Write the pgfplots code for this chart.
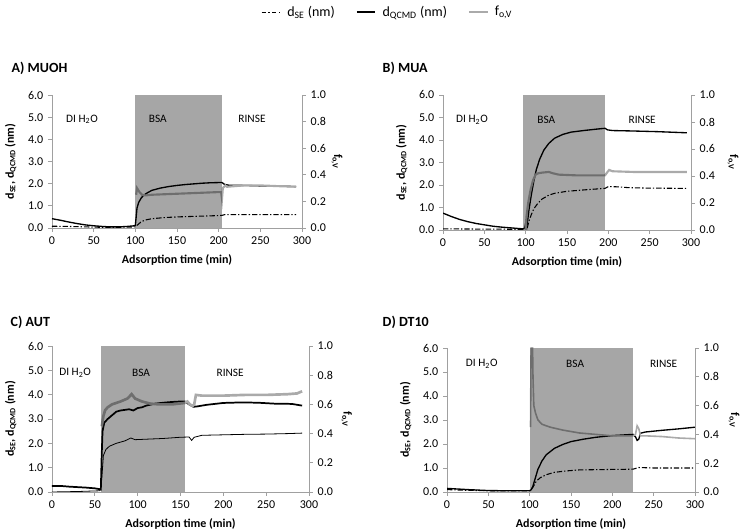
\documentclass[border=0pt]{standalone}
\usepackage{fontspec}
\setmainfont{Carlito}
\usepackage{pgfplots}
\pgfplotsset{compat=1.18}
\definecolor{axgray}{RGB}{160,160,160}
\definecolor{fgray}{RGB}{170,170,170}
\tikzset{reg/.style={font=\fontsize{8.5}{10}\selectfont},
  flab/.style={rotate=-90, anchor=center, font=\bfseries\fontsize{9}{10}\selectfont},
  ttl/.style={anchor=west, font=\bfseries\fontsize{10.5}{12}\selectfont}}
\pgfplotsset{
  base/.style={
    scale only axis, anchor=south west,
    xmin=0, xmax=300, clip=true,
    axis line style={draw=axgray, line width=0.7pt},
    tick style={draw=axgray, line width=0.6pt},
    tick align=outside, major tick length=3pt,
    /pgf/number format/assume math mode=true,
    tick label style={font=\fontsize{9}{10}\selectfont},
    label style={font=\bfseries\fontsize{9}{10}\selectfont},
  },
  leftax/.style={base,
    axis x line*=bottom, axis y line*=left,
    ymin=0, ymax=6, ytick={0,1,...,6}, xtick={0,50,...,300},
    yticklabel style={/pgf/number format/.cd, fixed, fixed zerofill, precision=1},
    xlabel={Adsorption time (min)},
    ylabel={d\textsubscript{SE}, d\textsubscript{QCMD} (nm)},
    xlabel style={yshift=-1pt},
    ylabel style={yshift=2pt},
  },
  rightax/.style={base,
    axis x line=none, axis y line*=right,
    ymin=0, ymax=1, ytick={0,0.2,...,1.0},
    yticklabel style={/pgf/number format/.cd, fixed, fixed zerofill, precision=1},
  },
  se/.style={black, line width=0.8pt, dash pattern=on 4pt off 1.5pt on 1pt off 1.5pt},
  qc/.style={black, line width=1pt},
  fv/.style={fgray, line width=1.6pt},
}
\begin{document}
\begin{tikzpicture}
\path[use as bounding box] (0,0) rectangle (556.5pt,398.25pt);
% ---------- legend ----------
\begin{axis}[hide axis, scale only axis, width=10pt, height=10pt,
  at={(291pt,389.25pt)}, anchor=center, xmin=0, xmax=1, ymin=0, ymax=1,
  legend columns=3,
  legend style={at={(0.5,0.5)}, anchor=center, draw=none, fill=none,
    font=\fontsize{10.5}{12}\selectfont,
    /tikz/every odd column/.append style={column sep=3pt},
    /tikz/every even column/.append style={column sep=14pt}},
  legend image code/.code={\draw[#1] (0pt,0pt) -- (14pt,0pt);}]
\addlegendimage{black, line width=0.6pt, dash pattern=on 3pt off 2pt on 1pt off 2pt}
\addlegendentry{d\textsubscript{SE} (nm)}
\addlegendimage{black, line width=0.8pt}
\addlegendentry{d\textsubscript{QCMD} (nm)}
\addlegendimage{fgray, line width=0.8pt}
\addlegendentry{f\textsubscript{o,V}}
\end{axis}
% ---------- A ----------
\begin{axis}[leftax, at={(39pt,227.25pt)}, width=187.5pt, height=99.75pt]
\addplot[qc] coordinates {(0,0.42)(10,0.35)(20,0.27)(30,0.2)(40,0.14)(50,0.1)(60,0.07)(70,0.05)(80,0.05)(90,0.07)(99,0.1)(100,0.12)(101,0.5)(102,0.9)(104,1.15)(107,1.35)(110,1.48)(115,1.6)(120,1.7)(130,1.8)(140,1.87)(150,1.92)(160,1.96)(170,1.99)(180,2.02)(190,2.04)(200,2.05)(204,2.05)(207,1.97)(212,1.93)(230,1.92)(250,1.9)(270,1.89)(293,1.87)};
\addplot[se] coordinates {(0,0.08)(20,0.07)(40,0.05)(60,0.03)(80,0.03)(100,0.05)(103,0.15)(107,0.28)(112,0.36)(120,0.42)(135,0.47)(150,0.5)(175,0.53)(200,0.56)(204,0.57)(207,0.6)(220,0.6)(250,0.6)(293,0.6)};
\end{axis}
\begin{axis}[rightax, at={(39pt,227.25pt)}, width=187.5pt, height=99.75pt]
\addplot[fv] coordinates {(101,0.25)(102,0.3)(103,0.29)(105,0.27)(108,0.25)(112,0.245)(120,0.25)(140,0.255)(160,0.26)(180,0.265)(200,0.27)(203,0.27)(204,0.22)(205,0.3)(208,0.32)(210,0.31)(230,0.32)(250,0.32)(270,0.315)(293,0.31)};
\fill[black, opacity=0.35] (axis cs:100,0) rectangle (axis cs:204,1);
\node[reg] at (axis cs:36,0.817) {DI H\textsubscript{2}O};
\node[reg] at (axis cs:127,0.817) {BSA};
\node[reg] at (axis cs:240,0.817) {RINSE};
\end{axis}
% ---------- B ----------
\begin{axis}[leftax, at={(332.25pt,225.75pt)}, width=186pt, height=101.25pt]
\addplot[qc] coordinates {(0,0.75)(10,0.6)(20,0.47)(30,0.37)(40,0.29)(50,0.23)(60,0.17)(70,0.13)(80,0.1)(90,0.07)(97,0.05)(99,0.1)(100,0.3)(101,0.05)(102,0.3)(104,0.9)(107,1.6)(110,2.2)(113,2.7)(117,3.15)(122,3.55)(128,3.85)(135,4.08)(145,4.25)(155,4.35)(170,4.42)(185,4.48)(196,4.52)(199,4.45)(205,4.42)(230,4.4)(260,4.37)(295,4.32)};
\addplot[se] coordinates {(0,0.05)(50,0.04)(97,0.03)(100,0.0)(102,0.1)(104,0.4)(107,0.7)(110,0.95)(115,1.2)(120,1.38)(128,1.55)(135,1.63)(150,1.72)(170,1.78)(196,1.85)(200,1.93)(210,1.92)(225,1.88)(250,1.86)(295,1.85)};
\end{axis}
\begin{axis}[rightax, at={(332.25pt,225.75pt)}, width=186pt, height=101.25pt]
\addplot[fv] coordinates {(100,0.0)(101,0.1)(103,0.2)(106,0.3)(109,0.37)(112,0.41)(115,0.42)(120,0.425)(128,0.43)(133,0.42)(140,0.41)(160,0.405)(180,0.405)(196,0.405)(199,0.43)(201,0.445)(205,0.435)(230,0.43)(260,0.43)(295,0.43)};
\fill[black, opacity=0.35] (axis cs:97,0) rectangle (axis cs:196,1);
\node[reg] at (axis cs:35,0.817) {DI H\textsubscript{2}O};
\node[reg] at (axis cs:125,0.817) {BSA};
\node[reg] at (axis cs:241,0.817) {RINSE};
\end{axis}
% ---------- C ----------
\begin{axis}[leftax, at={(39pt,29.25pt)}, width=192.75pt, height=109.5pt]
\addplot[qc, line width=1.3pt] coordinates {(0,0.25)(10,0.25)(20,0.22)(30,0.2)(40,0.18)(50,0.15)(55,0.12)(57,0.1)(58,1.5)(59,2.5)(61,2.85)(65,3.0)(70,3.15)(75,3.3)(80,3.35)(90,3.4)(95,3.35)(100,3.45)(105,3.48)(110,3.55)(120,3.63)(130,3.67)(140,3.7)(150,3.72)(155,3.72)(160,3.6)(165,3.5)(170,3.52)(180,3.58)(200,3.66)(220,3.68)(240,3.67)(260,3.63)(280,3.62)(292,3.55)};
\addplot[black, line width=0.6pt] coordinates {(0,0.0)(30,0.02)(56,0.05)(58,0.5)(60,1.5)(63,1.75)(67,1.88)(75,2.0)(85,2.1)(92,2.22)(97,2.15)(110,2.17)(130,2.2)(150,2.25)(160,2.26)(163,2.12)(166,2.25)(175,2.33)(200,2.35)(225,2.37)(250,2.38)(275,2.4)(292,2.42)};
\end{axis}
\begin{axis}[rightax, at={(39pt,29.25pt)}, width=192.75pt, height=109.5pt]
\addplot[fv, line width=2pt] coordinates {(58,0.45)(60,0.52)(62,0.56)(65,0.58)(70,0.6)(80,0.62)(88,0.64)(93,0.67)(97,0.64)(105,0.62)(115,0.605)(125,0.6)(140,0.6)(155,0.61)(158,0.62)(161,0.6)(164,0.59)(166,0.6)(168,0.665)(175,0.66)(200,0.66)(225,0.665)(250,0.665)(275,0.67)(286,0.675)(292,0.69)};
\fill[black, opacity=0.35] (axis cs:57,0) rectangle (axis cs:155,1);
\node[reg] at (axis cs:27,0.817) {DI H\textsubscript{2}O};
\node[reg] at (axis cs:104,0.817) {BSA};
\node[reg] at (axis cs:208,0.817) {RINSE};
\end{axis}
% ---------- D ----------
\begin{axis}[leftax, at={(335.25pt,29.25pt)}, width=186pt, height=108pt]
\addplot[qc] coordinates {(0,0.15)(10,0.13)(25,0.1)(50,0.06)(75,0.05)(100,0.05)(102,0.1)(104,0.25)(107,0.6)(110,0.95)(115,1.3)(120,1.55)(130,1.82)(140,1.98)(150,2.1)(165,2.2)(180,2.28)(200,2.35)(225,2.4)(228,2.3)(230,2.15)(232,2.2)(234,2.45)(240,2.5)(260,2.57)(280,2.63)(300,2.7)};
\addplot[se] coordinates {(0,0.1)(25,0.07)(50,0.05)(100,0.05)(104,0.2)(108,0.45)(113,0.6)(120,0.72)(130,0.82)(145,0.88)(160,0.92)(180,0.93)(200,0.94)(225,0.95)(228,0.98)(232,1.02)(250,1.0)(300,1.0)};
\end{axis}
\begin{axis}[rightax, at={(335.25pt,29.25pt)}, width=186pt, height=108pt]
\addplot[fv, line width=1.2pt] coordinates {(101,0.45)(102,1.2)(103,1.2)(104,0.8)(105,0.6)(107,0.55)(110,0.5)(115,0.47)(125,0.45)(140,0.43)(160,0.41)(180,0.4)(200,0.39)(225,0.39)(228,0.4)(230,0.46)(232,0.44)(234,0.39)(240,0.39)(260,0.385)(280,0.375)(300,0.37)};
\fill[black, opacity=0.35] (axis cs:100,0) rectangle (axis cs:225,1);
\node[reg] at (axis cs:42,0.89) {DI H\textsubscript{2}O};
\node[reg] at (axis cs:155,0.89) {BSA};
\node[reg] at (axis cs:262,0.89) {RINSE};
\end{axis}
% ---------- right axis labels ----------
\node[flab] at (252.75pt,277.1pt) {f\textsubscript{o,V}};
\node[flab] at (549.75pt,276.4pt) {f\textsubscript{o,V}};
\node[flab] at (260pt,84pt) {f\textsubscript{o,V}};
\node[flab] at (550.5pt,83.25pt) {f\textsubscript{o,V}};
% ---------- titles ----------
\node[ttl] at (5.25pt,347.25pt) {A) MUOH};
\node[ttl] at (283.5pt,347.25pt) {B) MUA};
\node[ttl] at (4.5pt,156.75pt) {C) AUT};
\node[ttl] at (283.5pt,156.75pt) {D) DT10};
\end{tikzpicture}
\end{document}
